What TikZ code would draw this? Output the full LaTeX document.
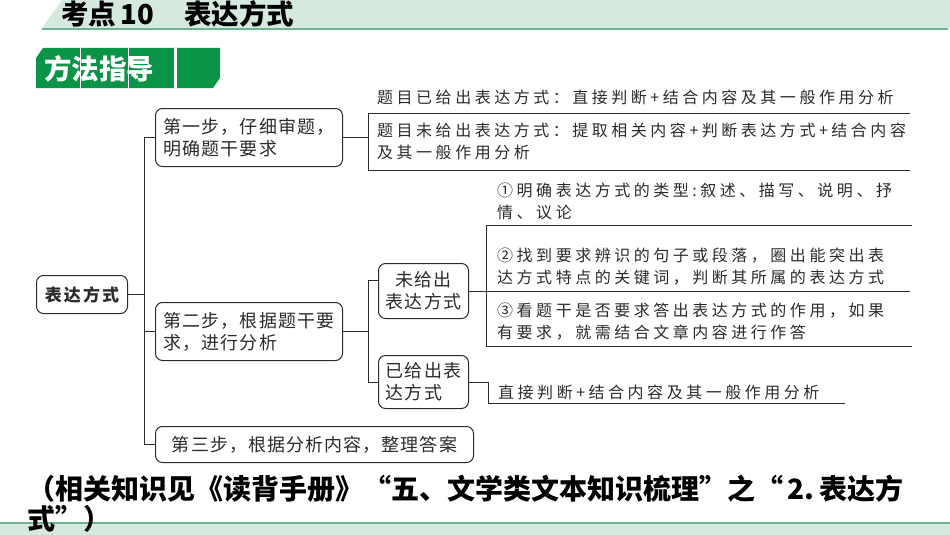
\documentclass[tikz,border=0pt]{standalone}
\usepackage{fontspec}
\newfontfamily\cjk{Noto Sans CJK SC}
\newfontfamily\boxfont{Noto Sans CJK SC}[LetterSpace=6]
\newfontfamily\leaffont{Noto Sans CJK SC}[LetterSpace=22]
\newfontfamily\rootfont{Noto Sans CJK SC}[LetterSpace=12]
\usetikzlibrary{positioning}
\definecolor{hdrbg}{HTML}{D5E9DF}
\definecolor{hdrline}{HTML}{6EB491}
\definecolor{tabgreen}{HTML}{0A9447}
\definecolor{ink}{HTML}{2B2B2B}
\tikzset{
  stepbox/.style={draw=ink, rounded corners=7pt, line width=1pt, align=left, inner sep=0pt,
    text=ink, anchor=north west, font=\boxfont\fontsize{18}{22}\selectfont},
  leaf/.style={align=left, inner sep=0pt, anchor=west, text=ink,
    font=\leaffont\fontsize{16}{22}\selectfont},
  rule/.style={draw=ink, line width=1pt},
}

\begin{document}
\begin{tikzpicture}[x=1pt,y=-1pt]
		%%%%% START %%%%%
		\useasboundingbox (0,0) rectangle (950,535);
		
		% header
		\fill[hdrbg] (62,0) -- (950,0) -- (950,28) -- (42,28) -- cycle;
		\draw[hdrline, line width=2.5pt] (42,29) -- (948,29);
		\node[anchor=west, inner sep=0pt, font=\cjk\bfseries\fontsize{27.5}{28}\selectfont] (kaodian) at (61,14) {考点\,10};
		\node[anchor=west, inner sep=0pt, font=\cjk\bfseries\fontsize{27.5}{28}\selectfont] (title) at (184,14) {表达方式};
		
		% tab
		\fill[tabgreen] (36,58) -- (43,48) -- (220,48) -- (220,78) -- (213,88) -- (36,88) -- cycle;
		\node[anchor=west, inner sep=0pt, text=white, font=\cjk\bfseries\fontsize{27.5}{28}\selectfont] (fangfa) at (44,69) {方法指导};
		\draw[white, line width=1pt] (80,48) -- (80,88);
		\draw[white, line width=1pt] (128,48) -- (128,88);
		\fill[white] (174,48) rectangle (177,88);
		
		% boxes
		\node[stepbox, align=center, minimum width=91pt, minimum height=38pt,
		  font=\rootfont\bfseries\fontsize{17}{20}\selectfont] (root) at (36,275) {表达方式};
		\node[stepbox, minimum width=187pt, minimum height=58pt] (step1) at (155,108) {第一步，仔细审题，\\明确题干要求};
		\node[stepbox, minimum width=187pt, minimum height=58pt] (step2) at (155,302) {第二步，根据题干要\\求，进行分析};
		\node[stepbox, minimum width=318pt, minimum height=36pt] (step3) at (155,426) {第三步，根据分析内容，整理答案};
		\node[stepbox, align=center, minimum width=90pt, minimum height=55pt] (weigei) at (378,263) {未给出\\表达方式};
		\node[stepbox, minimum width=90pt, minimum height=53pt] (yigei) at (378,355) {已给出表\\达方式};
		
		% texts
		\node[leaf] (t1a) at (377,97) {题目已给出表达方式：直接判断+结合内容及其一般作用分析};
		\node[leaf] (t1b) at (377,141) {题目未给出表达方式：提取相关内容+判断表达方式+结合内容\\及其一般作用分析};
		\node[leaf] (p1) at (497,201) {①明确表达方式的类型:叙述、描写、说明、抒\\情、议论};
		\node[leaf] (p2) at (497,266.5) {②找到要求辨识的句子或段落，圈出能突出表\\达方式特点的关键词，判断其所属的表达方式};
		\node[leaf] (p3) at (497,322) {③看题干是否要求答出表达方式的作用，如果\\有要求，就需结合文章内容进行作答};
		\node[leaf] (t2) at (498,392) {直接判断+结合内容及其一般作用分析};
		
		% trunk
		\coordinate (tr) at (144,0);
		\draw[rule] (root.east) -- (root.east -| tr);
		\draw[rule] (step1.west) -- (step1.west -| tr) -- (step3.west -| tr) -- (step3.west);
		\draw[rule] (step2.west) -- (step2.west -| tr);
		
		% step 1
		\coordinate (ba) at (368,113);
		\coordinate (bb) at (368,170);
		\draw[rule] (step1.east) -- (step1.east -| ba);
		\draw[rule] (910,113) -- (ba) -- (bb) -- (910,170);
		
		% step 2
		\draw[rule] (step2.east) -- (step2.east -| ba);
		\draw[rule] (weigei.west |- 0,280) -- (368,280) -- (yigei.west -| ba) -- (yigei.west);
		\coordinate (bc) at (486,225);
		\draw[rule] (weigei.east) -- (weigei.east -| 910,0);
		\draw[rule] (912,225) -- (bc) -- (486,346) -- (912,346);
		\draw[rule] (yigei.east) -| (488,403) -- (845,403);
		
		% footer
		\fill[hdrbg] (0,524) rectangle (950,535);
		\draw[hdrline, line width=2.5pt] (0,523) -- (950,523);
		
		% note
		\node[anchor=west, align=left, inner sep=0pt, text=black,
		  font=\cjk\bfseries\fontsize{28}{30}\selectfont] (note) at (27,504) {（相关知识见《读背手册》“五、文学类文本知识梳理”之“\,2.\,表达方\\式”）};
		%%%%% END %%%%%
\end{tikzpicture}
\end{document}
